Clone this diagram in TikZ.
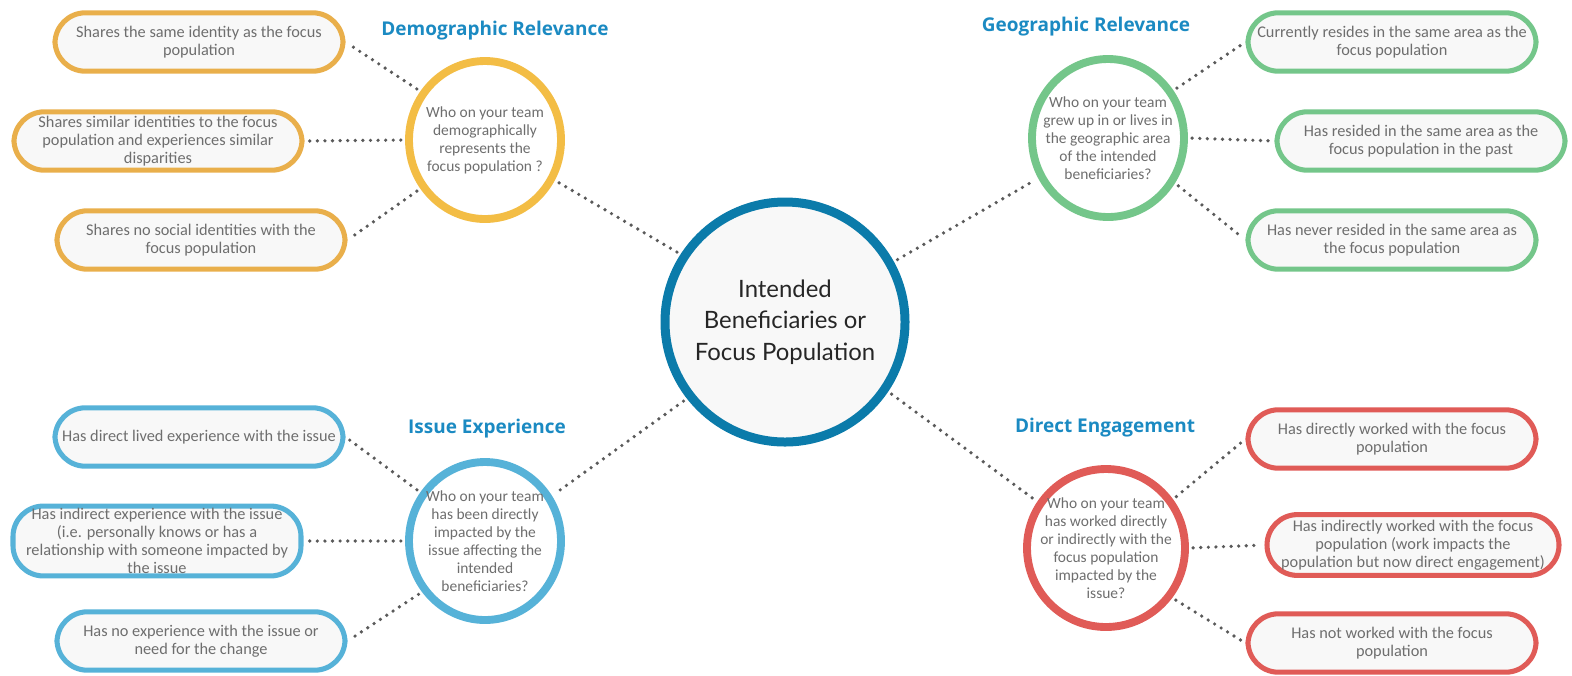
\documentclass[tikz,border=0pt]{standalone}
\usepackage{fontspec}
\setmainfont{Carlito}
\newfontfamily\headfont{Open Sans}
\newfontfamily\hubfont{Lato}
\usepackage{xcolor}
\usepackage{tikz}
\usetikzlibrary{shapes,positioning,calc}

\definecolor{demoyellow}{HTML}{F3BD45}
\definecolor{demoedge}{HTML}{E9AF4B}
\definecolor{geogreen}{HTML}{74C68A}
\definecolor{issueblue}{HTML}{56B2D8}
\definecolor{engred}{HTML}{E05B57}
\definecolor{hubblue}{HTML}{0B7BAA}
\definecolor{headblue}{HTML}{1B8AC2}
\definecolor{boxgrey}{HTML}{F8F8F8}
\definecolor{txtgrey}{HTML}{6E6E6E}
\definecolor{dotgrey}{HTML}{5A5A5A}

\tikzset{
    leaf/.style={draw=#1, line width=3.6pt, fill=boxgrey, rounded corners=7.6mm,
        minimum width=72mm, minimum height=14.6mm, inner sep=0.5mm, align=center,
        text=txtgrey, font=\fontsize{11.6}{12.9}\selectfont},
    question/.style={draw=#1, ellipse, line width=5.6pt, fill=white,
        minimum width=38mm, minimum height=39.5mm, inner sep=-3.5mm, align=center,
        text=txtgrey, font=\fontsize{11}{12.8}\selectfont},
    heading/.style={text=headblue, font=\headfont\bfseries\fontsize{13.5}{15}\selectfont},
    dotline/.style={draw=dotgrey, line width=2.6pt, line cap=round, dash pattern=on 0pt off 5.4pt, shorten <=3pt, shorten >=3pt}
}

\begin{document}
\begin{tikzpicture}[x=0.25mm, y=-0.25mm]
    \useasboundingbox (0,0) rectangle (1572,675);

    % Centre
    \node[draw=hubblue, circle, line width=6.4pt, fill=boxgrey, minimum size=60mm,
        align=center, font=\hubfont\fontsize{17}{22.5}\selectfont, text=black!85] (hub) at (785,322)
        {Intended\\Beneficiaries or\\Focus Population};

    % Demographic Relevance
    \node[heading] (demohead) at (495,31) {Demographic Relevance};
    \node[question=demoyellow] (demo) at (485,140)
        {Who on your team\\demographically\\represents the\\focus population ?};
    \node[leaf=demoedge] (demo1) at (199,42) {Shares the same identity as the focus\\population};
    \node[leaf=demoedge] (demo2) at (158,141) {Shares similar identities to the focus\\population and experiences similar\\disparities};
    \node[leaf=demoedge] (demo3) at (201,240) {Shares no social identities with the\\focus population};

    % Geographic Relevance
    \node[heading] (geohead) at (1086,27) {Geographic Relevance};
    \node[question=geogreen] (geo) at (1108,138)
        {Who on your team\\grew up in or lives in\\the geographic area\\of the intended\\beneficiaries?};
    \node[leaf=geogreen] (geo1) at (1392,42) {Currently resides in the same area as the\\focus population};
    \node[leaf=geogreen] (geo2) at (1421,141) {Has resided in the same area as the\\focus population in the past};
    \node[leaf=geogreen] (geo3) at (1392,240) {Has never resided in the same area as\\the focus population};

    % Issue Experience
    \node[heading] (issuehead) at (487,429) {Issue Experience};
    \node[question=issueblue] (issue) at (485,541)
        {Who on your team\\has been directly\\impacted by the\\issue affecting the\\intended\\beneficiaries?};
    \node[leaf=issueblue] (issue1) at (199,437) {Has direct lived experience with the issue};
    \node[leaf=issueblue, minimum height=17.4mm] (issue2) at (157,541) {Has indirect experience with the issue\\(i.e. personally knows or has a\\relationship with someone impacted by\\the issue};
    \node[leaf=issueblue] (issue3) at (201,641) {Has no experience with the issue or\\need for the change};

    % Direct Engagement
    \node[heading] (enghead) at (1105,428) {Direct Engagement};
    \node[question=engred, minimum width=39.5mm] (eng) at (1106,548)
        {Who on your team\\has worked directly\\or indirectly with the\\focus population\\impacted by the\\issue?};
    \node[leaf=engred] (eng1) at (1392,439) {Has directly worked with the focus\\population};
    \node[leaf=engred, minimum width=73mm, minimum height=15.2mm] (eng2) at (1413,545) {Has indirectly worked with the focus\\population (work impacts the\\population but now direct engagement)};
    \node[leaf=engred] (eng3) at (1392,643) {Has not worked with the focus\\population};

    % Dotted links
    \draw[dotline] (hub.147) -- (demo.-30);
    \draw[dotline] (hub.29) -- (geo.210);
    \draw[dotline] (hub.218) -- (issue.34);
    \draw[dotline] (hub.-34) -- (eng.146);
    \foreach \grp/\a/\b in {demo/143/217, issue/143/219} {
        \draw[dotline] (\grp.\a) -- (\grp1.east);
        \draw[dotline] (\grp.180) -- (\grp2.east);
        \draw[dotline] (\grp.\b) -- (\grp3.east);
    }
    \foreach \grp/\a/\b in {geo/36/-34, eng/36/-37} {
        \draw[dotline] (\grp.\a) -- (\grp1.west);
        \draw[dotline] (\grp.0) -- (\grp2.west);
        \draw[dotline] (\grp.\b) -- (\grp3.west);
    }
\end{tikzpicture}
\end{document}
